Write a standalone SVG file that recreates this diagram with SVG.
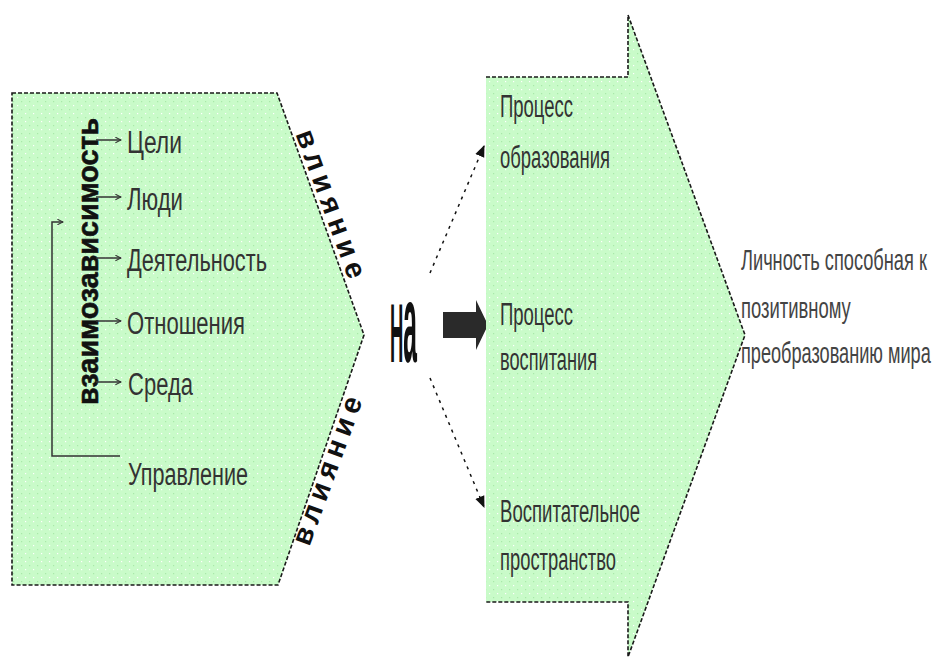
<svg xmlns="http://www.w3.org/2000/svg" width="938" height="660" viewBox="0 0 938 660">
<defs>
<pattern id="dots" width="8" height="8" patternUnits="userSpaceOnUse">
<rect width="8" height="8" fill="#c9fbc9"/>
<rect x="1" y="1" width="1.2" height="1.2" fill="#ffffff"/>
<rect x="5" y="5" width="1.2" height="1.2" fill="#a9e9a9"/>
</pattern>
<marker id="open" viewBox="0 0 10 10" refX="9" refY="5" markerWidth="7" markerHeight="7" markerUnits="userSpaceOnUse" orient="auto">
<path d="M1,1 L9,5 L1,9" fill="none" stroke="#333" stroke-width="1.5"/>
</marker>
<marker id="solid" viewBox="0 0 10 10" refX="9" refY="5" markerWidth="12" markerHeight="12" markerUnits="userSpaceOnUse" orient="auto">
<path d="M0,1 L10,5 L0,9 Z" fill="#111"/>
</marker>
<style>
.edge{fill:none;stroke:#1a1a1a;stroke-width:1.6;stroke-dasharray:4 2}
.item{font-family:"Liberation Sans",Arial,sans-serif;font-size:31px;fill:#333}
.box{font-family:"Liberation Sans",Arial,sans-serif;font-size:31px;fill:#333}
.out{font-family:"Liberation Sans",Arial,sans-serif;font-size:29px;fill:#444}
.bold{font-family:"Liberation Sans",Arial,sans-serif;font-weight:bold;fill:#111}
.small{fill:none;stroke:#333;stroke-width:1.5}
.conn{fill:none;stroke:#111;stroke-width:1.5;stroke-dasharray:3 5}
</style>
</defs>

<g id="factors">
<path d="M12,93 L277,93 L364,335 L278,585 L12,585 Z" fill="url(#dots)"/>
<path class="edge" d="M12,93 L277,93 L364,335 L278,585 L12,585 Z"/>
<text class="bold" font-size="29" textLength="287" lengthAdjust="spacingAndGlyphs" stroke="#111" stroke-width="0.6" transform="translate(98,405) rotate(-90)">взаимозависимость</text>
<path class="small" d="M96,140 L121,140" marker-end="url(#open)"/>
<path class="small" d="M96,197 L121,197" marker-end="url(#open)"/>
<path class="small" d="M96,258 L121,258" marker-end="url(#open)"/>
<path class="small" d="M96,321 L121,321" marker-end="url(#open)"/>
<path class="small" d="M96,382 L121,382" marker-end="url(#open)"/>
<path class="small" d="M120,456 L52,456 L52,222 L63,222" marker-end="url(#open)"/>
<text class="item" x="127" y="153" textLength="55" lengthAdjust="spacingAndGlyphs">Цели</text>
<text class="item" x="127" y="210" textLength="56" lengthAdjust="spacingAndGlyphs">Люди</text>
<text class="item" x="127" y="271" textLength="140" lengthAdjust="spacingAndGlyphs">Деятельность</text>
<text class="item" x="127" y="334" textLength="118" lengthAdjust="spacingAndGlyphs">Отношения</text>
<text class="item" x="128" y="395" textLength="65" lengthAdjust="spacingAndGlyphs">Среда</text>
<text class="item" x="128" y="485" textLength="120" lengthAdjust="spacingAndGlyphs">Управление</text>
</g>

<g id="influence-top">
<text class="bold" font-size="29" text-anchor="middle" textLength="156" transform="translate(322,207) rotate(70)">влияние</text>
</g>
<g id="influence-bottom">
<text class="bold" font-size="29" text-anchor="middle" textLength="156" transform="translate(336,474) rotate(-70)">влияние</text>
</g>

<g id="na">
<text class="bold" transform="translate(390,362) scale(0.22,1)"><tspan font-size="84">Н</tspan><tspan font-size="112">а</tspan></text>
</g>

<g id="connectors">
<path class="conn" d="M430,273 L484,146" marker-end="url(#solid)"/>
<path class="conn" d="M430,378 L484,507" marker-end="url(#solid)"/>
<path d="M443,312 L476,312 L476,300 L488,325 L476,350 L476,338 L443,338 Z" fill="#2a2a2a"/>
</g>

<g id="processes">
<path d="M486,77 L628,77 L628,15 L745,335 L628,657 L628,602 L486,602 Z" fill="url(#dots)"/>
<path class="edge" d="M486,77 L628,77 L628,15 L745,335 L628,657 L628,602 L486,602"/>
<text class="box" x="500" y="117" textLength="73" lengthAdjust="spacingAndGlyphs">Процесс</text>
<text class="box" x="500" y="168" textLength="110" lengthAdjust="spacingAndGlyphs">образования</text>
<text class="box" x="500" y="325" textLength="73" lengthAdjust="spacingAndGlyphs">Процесс</text>
<text class="box" x="500" y="370" textLength="97" lengthAdjust="spacingAndGlyphs">воспитания</text>
<text class="box" x="500" y="522" textLength="140" lengthAdjust="spacingAndGlyphs">Воспитательное</text>
<text class="box" x="500" y="570" textLength="116" lengthAdjust="spacingAndGlyphs">пространство</text>
</g>

<g id="result">
<text class="out" transform="translate(741,270) scale(0.65,1)" textLength="286" lengthAdjust="spacingAndGlyphs">Личность способная к</text>
<text class="out" transform="translate(741,318) scale(0.65,1)" textLength="169" lengthAdjust="spacingAndGlyphs">позитивному</text>
<text class="out" transform="translate(741,363) scale(0.65,1)" textLength="292" lengthAdjust="spacingAndGlyphs">преобразованию мира</text>
</g>
</svg>
